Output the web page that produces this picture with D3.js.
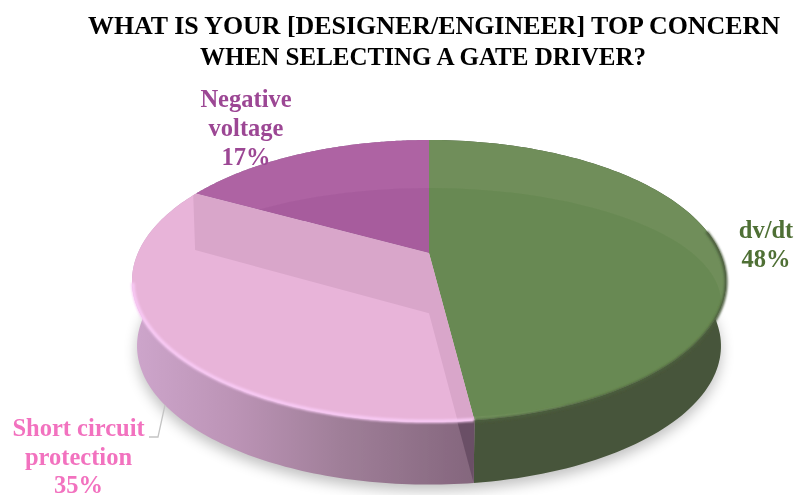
<!DOCTYPE html>
<html><head><meta charset="utf-8">
<script src="https://cdn.jsdelivr.net/npm/d3@7"></script>
<style>html,body{margin:0;background:#fff}svg{display:block}text{font-family:"Liberation Serif",serif;font-weight:bold}</style>
</head><body><svg id="c" width="796" height="495"></svg>
<script>
const categories=["dv/dt","Short circuit protection","Negative voltage"];
const values=[48,35,17];
const labelLines=[["dv/dt","48%"],["Short circuit","protection","35%"],["Negative","voltage","17%"]];
const titleLines=["WHAT IS YOUR [DESIGNER/ENGINEER] TOP CONCERN","WHEN SELECTING A GATE DRIVER?"];
const faceColors=["#6f8e5a","#e8b4d9","#ae63a3"];
const textColors=["#4f7035","#f272bf","#9c4694"];

const W=796,H=495,root=d3.select("#c");
const defs=root.append("defs");
const cx=429,apexY=253,R=291.1,k=0.1986,a=-85.2,depth=65,shrink=0.983,midY=281;
// perspective projection of the unit disc to the page
const proj=(u,v)=>{const d=1+k*v;return [cx+R*u/d,(apexY+a*v)/d];};
const projB=(u,v)=>{const p=proj(u,v);return [cx+(p[0]-cx)*shrink,midY+(p[1]-midY)*shrink+depth];};
const rim=(t,f=proj)=>f(Math.sin(t),Math.cos(t));
const arcs=d3.pie().sort(null).startAngle(0).endAngle(2*Math.PI)(values);
const line=d3.line().curve(d3.curveLinearClosed);
const samples=(s,e)=>d3.range(0,121).map(i=>s+(e-s)*i/120);
const facePts=d=>[proj(0,0),...samples(d.startAngle,d.endAngle).map(t=>rim(t))];
const wallPts=d=>{const ts=samples(d.startAngle,d.endAngle);return [...ts.map(t=>rim(t)),...ts.slice().reverse().map(t=>rim(t,projB))];};

const blur=(id,s)=>defs.append("filter").attr("id",id).attr("x","-20%").attr("y","-20%").attr("width","140%").attr("height","140%")
  .append("feGaussianBlur").attr("stdDeviation",s);
blur("b8",7);blur("b1",1);blur("t",0.35);blur("soft",0.5);

const gPink=defs.append("linearGradient").attr("id","wallPink").attr("gradientUnits","userSpaceOnUse").attr("x1",135).attr("x2",474).attr("y1",0).attr("y2",0);
[[0,"#cda5cb"],[0.3,"#bb93b5"],[0.6,"#a07f99"],[1,"#84667d"]].forEach(s=>gPink.append("stop").attr("offset",s[0]).attr("stop-color",s[1]));
const wallFill=["#47553a","url(#wallPink)","#9b7fa0"];

// shadow under the disc
const full=samples(0,2*Math.PI);
root.append("path").attr("d",line(full.map(t=>{const p=rim(t,projB);return [p[0],p[1]+6];})))
  .attr("fill","#000").attr("opacity",0.25).attr("filter","url(#b8)");

const svg=root.append("g").attr("filter","url(#soft)");

// outer walls
svg.selectAll("path.wall").data(arcs).join("path").attr("class","wall")
  .attr("d",d=>line(wallPts(d))).attr("fill",(d,i)=>wallFill[i]);

// dark sliver on the pink wall next to the boundary
const b0=arcs[1].startAngle, e1=rim(arcs[1].endAngle), s0=rim(b0);
svg.append("path").attr("d",line([s0,rim(b0,projB),[s0[0]-17,s0[1]+2]])).attr("fill","#6b4f66");

// top faces
arcs.forEach((d,i)=>{
  defs.append("clipPath").attr("id","clip"+i).append("path").attr("d",line(facePts(d)));
  svg.append("path").attr("d",line(facePts(d))).attr("fill",faceColors[i]);
});
// inner sheen: slightly darker ellipse across the green and purple faces
[0,2].forEach(i=>{
  svg.append("g").attr("clip-path",`url(#clip${i})`).append("ellipse")
    .attr("cx",cx).attr("cy",303).attr("rx",292).attr("ry",115)
    .attr("fill",i?"#6e2a6a":"#3f6a20").attr("opacity",i?0.1:0.13);
});
// darker band on the pink face along both of its straight edges
const inner=[[-0.807,0.022],[0,-0.4086]].map(p=>proj(p[0],p[1]));
svg.append("g").attr("clip-path","url(#clip1)").append("path")
  .attr("d",line([proj(0,0),s0,[s0[0]-17,s0[1]],inner[1],inner[0],[e1[0]-3,e1[1]],e1]))
  .attr("fill","#d9a6ca");

// bevel along the rim
svg.append("path").attr("d",d3.line()(samples(b0,4.5).map(t=>{const p=rim(t);return [cx+(p[0]-cx)*0.997,midY+(p[1]-midY)*0.995];})))
  .attr("fill","none").attr("stroke","#f8c9f4").attr("stroke-width",3.5).attr("filter","url(#b1)");
svg.append("path").attr("d",d3.line()(samples(1.4,arcs[0].endAngle).map(t=>{const p=rim(t);return [p[0],p[1]+1];})))
  .attr("fill","none").attr("stroke","#4c5d3c").attr("stroke-width",3).attr("filter","url(#b1)");

// leader line
root.append("polyline").attr("points",[[165,405],[158,437],[149,437]].join(" "))
  .attr("fill","none").attr("stroke","#c4c4c4").attr("stroke-width",1.3);

// title
const titleX=[434,423],titleLen=[692,446];
root.append("g").attr("filter","url(#t)").selectAll("text").data(titleLines).join("text")
  .attr("x",(d,i)=>titleX[i]).attr("y",(d,i)=>34+i*31).attr("text-anchor","middle")
  .attr("font-size",26).attr("fill","#000")
  .attr("textLength",(d,i)=>titleLen[i]).attr("lengthAdjust","spacingAndGlyphs").text(d=>d);

// labels
const labelPos=[[766,238],[78.5,436],[246,107]];
labelLines.forEach((ls,i)=>{
  const g=root.append("g").attr("filter","url(#t)");
  g.selectAll("text").data(ls).join("text").attr("x",labelPos[i][0]).attr("y",(d,j)=>labelPos[i][1]+j*(i==1?28.7:29))
   .attr("text-anchor","middle").attr("font-size",24.5).attr("fill",textColors[i]).text(d=>d);
});
</script></body></html>
